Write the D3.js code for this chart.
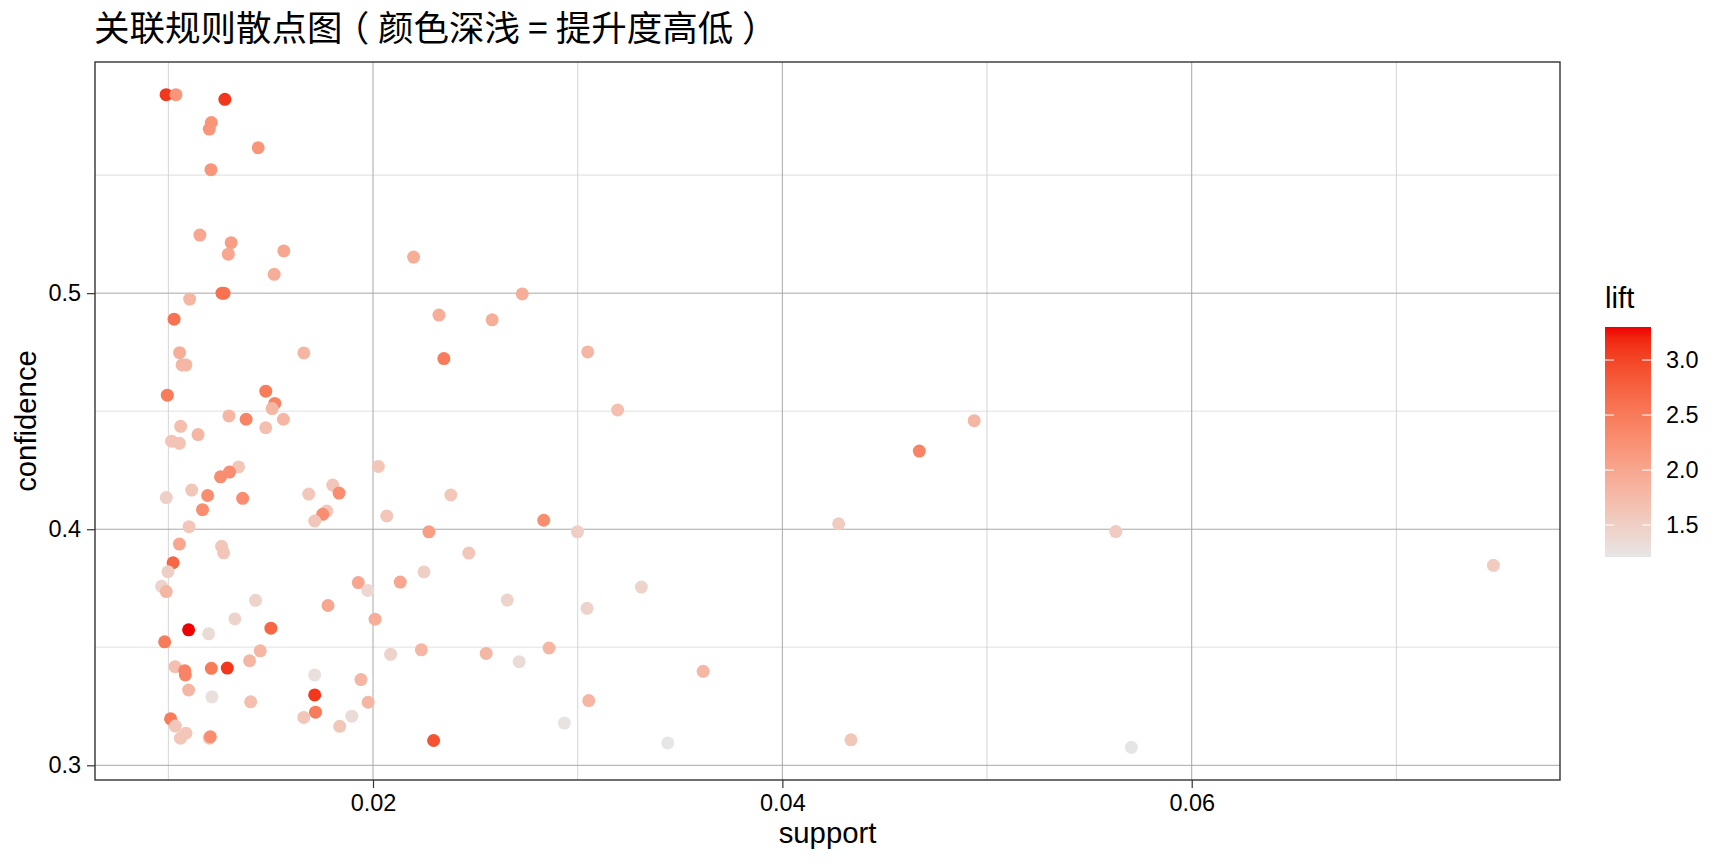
<!DOCTYPE html>
<html>
<head>
<meta charset="utf-8">
<script src="https://cdn.jsdelivr.net/npm/d3@7"></script>
<style>
  body { margin: 0; background: #fff; }
  text { font-family: "Liberation Sans", Arial, sans-serif; fill: #000; }
</style>
</head>
<body>
<div id="chart"></div>
<script>
// rule values: support (x), confidence (y), lift (colour)
const support = [
  0.00989, 0.01037, 0.01276, 0.0121, 0.0120, 0.01439, 0.01208, 0.01154, 0.01307, 0.01293,
  0.01564, 0.02198, 0.01517, 0.01262, 0.01272, 0.01104, 0.02729, 0.03049, 0.03195, 0.01028,
  0.02322, 0.02582, 0.01055, 0.01067, 0.01086, 0.01662, 0.02346, 0.00995, 0.01476, 0.01520,
  0.01507, 0.01296, 0.01380, 0.01562, 0.01476, 0.01060, 0.01145, 0.01016, 0.01054, 0.01343,
  0.01299, 0.01255, 0.02026, 0.0099, 0.01114, 0.01192, 0.01363, 0.01167, 0.01686, 0.01803,
  0.01834, 0.01774, 0.01754, 0.01715, 0.02380, 0.02067, 0.02273, 0.01101, 0.01054, 0.0126,
  0.0127, 0.02468, 0.01023, 0.00998, 0.00967, 0.0099, 0.01426, 0.01325, 0.01099, 0.01197,
  0.01501, 0.00982, 0.01928, 0.01974, 0.0178, 0.0201, 0.02133, 0.02249, 0.02086, 0.02236,
  0.02553, 0.01449, 0.01397, 0.01033, 0.0108, 0.01083, 0.0121, 0.01288, 0.01099, 0.01213,
  0.01402, 0.01715, 0.01941, 0.01715, 0.01719, 0.01976, 0.01662, 0.01896, 0.01837, 0.02296,
  0.01011, 0.01034, 0.01059, 0.01086, 0.0120, 0.01205, 0.02834, 0.02999, 0.04275, 0.02656,
  0.03311, 0.03046, 0.02714, 0.0286, 0.03613, 0.03054, 0.02935, 0.03440, 0.04335, 0.04937,
  0.04669, 0.05629, 0.07474, 0.05705
];
const confidence = [
  0.5841, 0.5841, 0.5821, 0.5723, 0.5695, 0.5616, 0.5523, 0.5246, 0.5214, 0.5165,
  0.5179, 0.5153, 0.5080, 0.5000, 0.5000, 0.4975, 0.4997, 0.4751, 0.4505, 0.4890,
  0.4907, 0.4887, 0.4748, 0.4696, 0.4696, 0.4747, 0.4723, 0.4568, 0.4585, 0.4533,
  0.4511, 0.4480, 0.4466, 0.4466, 0.4430, 0.4436, 0.4401, 0.4373, 0.4364, 0.4264,
  0.4242, 0.4222, 0.4266, 0.4134, 0.4166, 0.4143, 0.4131, 0.4083, 0.4149, 0.4187,
  0.4153, 0.4077, 0.4063, 0.4035, 0.4145, 0.4056, 0.3989, 0.4011, 0.3937, 0.3928,
  0.3900, 0.3899, 0.3858, 0.3820, 0.3758, 0.3736, 0.3699, 0.3620, 0.3574, 0.3557,
  0.3581, 0.3523, 0.3774, 0.3741, 0.3677, 0.3619, 0.3776, 0.3819, 0.3470, 0.3489,
  0.3474, 0.3485, 0.3443, 0.3418, 0.3401, 0.3383, 0.3411, 0.3412, 0.3319, 0.3290,
  0.3269, 0.3383, 0.3363, 0.3298, 0.3225, 0.3267, 0.3203, 0.3208, 0.3165, 0.3105,
  0.3197, 0.3166, 0.3115, 0.3136, 0.3115, 0.3121, 0.4038, 0.3989, 0.4023, 0.3700,
  0.3755, 0.3665, 0.3439, 0.3497, 0.3398, 0.3274, 0.3179, 0.3095, 0.3108, 0.4460,
  0.4331, 0.3990, 0.3847, 0.3076
];
const lift = [
  3.1, 2.2, 3.1, 2.2, 2.2, 2.2, 2.2, 2.0, 2.1, 2.0,
  2.0, 1.9, 1.9, 2.6, 2.6, 1.8, 1.9, 1.8, 1.7, 2.6,
  1.9, 1.9, 1.9, 1.8, 1.8, 1.8, 2.5, 2.5, 2.5, 2.4,
  1.8, 1.8, 2.4, 1.8, 1.7, 1.7, 1.8, 1.65, 1.65, 1.6,
  2.3, 2.3, 1.6, 1.5, 1.6, 2.3, 2.3, 2.3, 1.6, 1.6,
  2.3, 1.6, 2.3, 1.6, 1.6, 1.6, 2.1, 1.6, 2.0, 1.6,
  1.6, 1.6, 2.7, 1.5, 1.45, 1.8, 1.45, 1.45, 3.3, 1.35,
  2.7, 2.5, 2.0, 1.4, 2.0, 1.9, 2.0, 1.5, 1.45, 1.8,
  1.8, 1.8, 1.8, 1.7, 2.4, 2.4, 2.5, 3.1, 1.8, 1.3,
  1.7, 1.3, 1.8, 3.1, 2.5, 1.8, 1.6, 1.35, 1.6, 2.9,
  2.5, 1.6, 1.6, 1.6, 1.6, 2.3, 2.3, 1.5, 1.55, 1.45,
  1.45, 1.45, 1.35, 1.8, 1.8, 1.8, 1.25, 1.21, 1.6, 1.8,
  2.4, 1.55, 1.55, 1.22
];
const xTicks = [0.02, 0.04, 0.06];
const xMinor = [0.01, 0.03, 0.05, 0.07];
const yTicks = [0.3, 0.4, 0.5];
const yMinor = [0.35, 0.45, 0.55];
const liftTicks = [1.5, 2.0, 2.5, 3.0];

const W = 1728, H = 864;
const MARGIN = { TOP: 62, BOTTOM: 84, LEFT: 95, RIGHT: 168 };
const PW = W - MARGIN.LEFT - MARGIN.RIGHT;
const PH = H - MARGIN.TOP - MARGIN.BOTTOM;
const BASE = 29.3;            // axis / legend titles
const SMALL = BASE * 0.8;     // tick labels

const rules = support.map((s, i) => ({ support: s, confidence: confidence[i], lift: lift[i] }));

const svg = d3.select("#chart").append("svg")
  .attr("width", W)
  .attr("height", H);

// ggplot style 5% expansion on both continuous axes
function expand(ext) {
  const pad = (ext[1] - ext[0]) * 0.05;
  return [ext[0] - pad, ext[1] + pad];
}
const x = d3.scaleLinear().domain(expand(d3.extent(support))).range([0, PW]);
const y = d3.scaleLinear().domain(expand(d3.extent(confidence))).range([PH, 0]);
const color = d3.scaleLinear()
  .domain(d3.extent(lift))
  .range(["#e6e6e6", "#ee0000"])
  .interpolate(d3.interpolateLab);

const g = svg.append("g").attr("transform", `translate(${MARGIN.LEFT},${MARGIN.TOP})`);

// grid
g.selectAll(".ymin").data(yMinor).join("line")
  .attr("x1", 0).attr("x2", PW)
  .attr("y1", d => y(d)).attr("y2", d => y(d))
  .attr("stroke", "#ebebeb").attr("stroke-width", 1.6);
g.selectAll(".xmin").data(xMinor).join("line")
  .attr("y1", 0).attr("y2", PH)
  .attr("x1", d => x(d)).attr("x2", d => x(d))
  .attr("stroke", "#d0d0d0").attr("stroke-width", 0.9);
g.selectAll(".ymaj").data(yTicks).join("line")
  .attr("x1", 0).attr("x2", PW)
  .attr("y1", d => y(d)).attr("y2", d => y(d))
  .attr("stroke", "#a8a8a8").attr("stroke-width", 1);
g.selectAll(".xmaj").data(xTicks).join("line")
  .attr("y1", 0).attr("y2", PH)
  .attr("x1", d => x(d)).attr("x2", d => x(d))
  .attr("stroke", "#a8a8a8").attr("stroke-width", 1);

// points
g.append("g").selectAll("circle").data(rules).join("circle")
  .attr("cx", d => x(d.support))
  .attr("cy", d => y(d.confidence))
  .attr("r", 6.5)
  .attr("fill", d => color(d.lift));

// panel border
g.append("rect")
  .attr("width", PW).attr("height", PH)
  .attr("fill", "none").attr("stroke", "#333").attr("stroke-width", 1.4);

// axes
const xAxis = g.append("g")
  .attr("transform", `translate(0,${PH})`)
  .call(d3.axisBottom(x).tickValues(xTicks).tickFormat(d3.format(".2f")).tickSize(8).tickPadding(6));
const yAxis = g.append("g")
  .call(d3.axisLeft(y).tickValues(yTicks).tickFormat(d3.format(".1f")).tickSize(8).tickPadding(6));
[xAxis, yAxis].forEach(a => {
  a.select(".domain").remove();
  a.selectAll("line").attr("stroke", "#333").attr("stroke-width", 1.2);
  a.selectAll("text").attr("font-size", SMALL).attr("fill", "#000")
    .attr("font-family", "Liberation Sans, Arial, sans-serif");
});

// axis titles
g.append("text")
  .attr("x", PW / 2).attr("y", PH + 63)
  .attr("text-anchor", "middle").attr("font-size", BASE)
  .text("support");
g.append("text")
  .attr("transform", `translate(${-59.5},${PH / 2}) rotate(-90)`)
  .attr("text-anchor", "middle").attr("font-size", BASE)
  .text("confidence");

// title; the full-width brackets are nudged so they sit centred like the original
const title = svg.append("text")
  .attr("x", MARGIN.LEFT - 1).attr("y", 41)
  .attr("font-size", 35.5)
  .style("font-family", "'Noto Sans CJK SC', sans-serif");
[["关联规则散点图", 0], ["（", -0.25], ["颜色深浅 = 提升度高低", 0.25], ["）", 0.25]]
  .forEach(([t, dx]) => title.append("tspan").attr("dx", `${dx}em`).text(t));

// colour bar legend
const LX = 1605, LW = 46, LTOP = 327, LH = 230;
const ly = d3.scaleLinear().domain(d3.extent(lift)).range([LTOP + LH, LTOP]);
const grad = svg.append("defs").append("linearGradient")
  .attr("id", "liftgrad").attr("x1", 0).attr("x2", 0).attr("y1", 1).attr("y2", 0);
grad.selectAll("stop").data(d3.range(0, 1.0001, 0.05)).join("stop")
  .attr("offset", d => d)
  .attr("stop-color", d => color(ly.domain()[0] + d * (ly.domain()[1] - ly.domain()[0])));
svg.append("rect")
  .attr("x", LX).attr("y", LTOP).attr("width", LW).attr("height", LH)
  .attr("fill", "url(#liftgrad)");
const lt = svg.append("g").selectAll("g").data(liftTicks).join("g");
lt.append("line")
  .attr("x1", LX).attr("x2", LX + 9)
  .attr("y1", d => ly(d)).attr("y2", d => ly(d))
  .attr("stroke", "#fff").attr("stroke-opacity", 0.85).attr("stroke-width", 1.2);
lt.append("line")
  .attr("x1", LX + LW - 9).attr("x2", LX + LW)
  .attr("y1", d => ly(d)).attr("y2", d => ly(d))
  .attr("stroke", "#fff").attr("stroke-opacity", 0.85).attr("stroke-width", 1.2);
lt.append("text")
  .attr("x", LX + LW + 15).attr("y", d => ly(d))
  .attr("dy", "0.35em").attr("font-size", SMALL)
  .text(d => d.toFixed(1));
svg.append("text")
  .attr("x", LX).attr("y", 308)
  .attr("font-size", BASE)
  .text("lift");
</script>
</body>
</html>
